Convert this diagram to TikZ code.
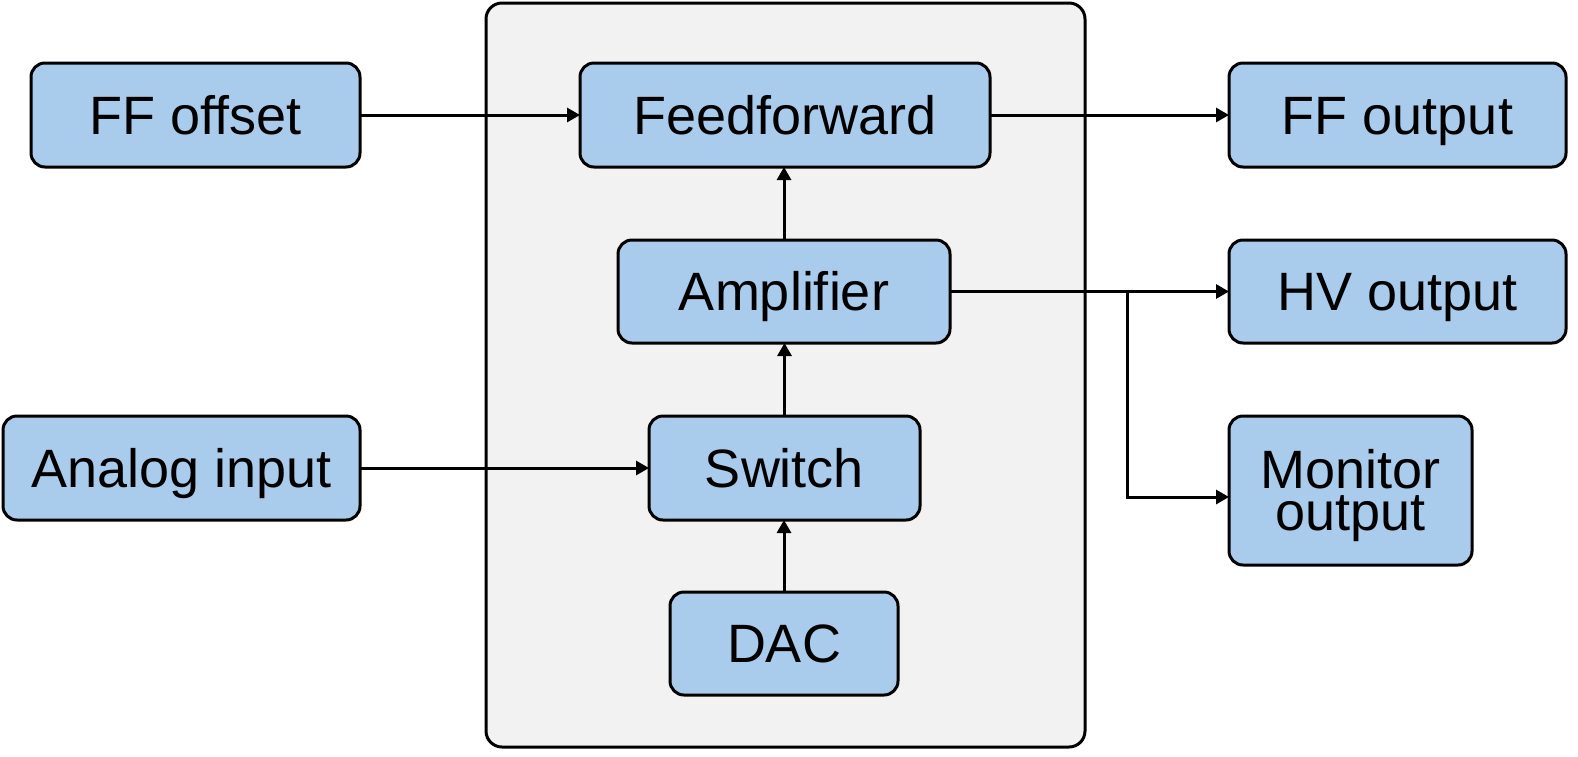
\documentclass[tikz,border=0pt]{standalone}
\usepackage{fontspec}
\setmainfont{Liberation Sans}
\usetikzlibrary{arrows.meta}
\definecolor{boxblue}{RGB}{169,203,236}
\definecolor{panelgray}{RGB}{242,242,242}
\begin{document}
\begin{tikzpicture}[x=0.5pt,y=-0.5pt,
  blk/.style={draw=black, line width=1.5pt, fill=boxblue, rounded corners=7pt,
    outer sep=0pt, inner sep=0pt, font=\fontsize{27}{21}\selectfont, align=center,
    text height=19.3pt, text depth=0pt},
  panel/.style={draw=black, line width=1.5pt, fill=panelgray, rounded corners=8pt, outer sep=0pt},
  conn/.style={draw=black, line width=1.5pt, -{Triangle[length=6.5pt,width=7pt]}}]
\useasboundingbox (0,0) rectangle (1578,756);
\node[panel, minimum width=299.5pt, minimum height=372pt] (panel) at (785.5,375) {};
\node[blk, minimum width=164.5pt, minimum height=52pt] (ffoff) at (195.5,115) {FF offset};
\node[blk, minimum width=205pt, minimum height=52pt] (ff) at (785,115) {Feedforward};
\node[blk, minimum width=168.5pt, minimum height=52pt] (ffout) at (1397.5,115) {FF output};
\node[blk, minimum width=166pt, minimum height=51.5pt] (amp) at (784,291.5) {Amplifier};
\node[blk, minimum width=168.5pt, minimum height=51.5pt] (hv) at (1397.5,291.5) {HV output};
\node[blk, minimum width=178.5pt, minimum height=52pt] (ain) at (181.5,468) {Analog input};
\node[blk, minimum width=135.5pt, minimum height=52pt] (sw) at (784.5,468) {Switch};
\node[blk, minimum width=121.5pt, minimum height=74.5pt, text height=40.3pt, text depth=0pt] (mon) at (1350.5,490.5) {Monitor\\output};
\node[blk, minimum width=114pt, minimum height=51.5pt] (dac) at (784,643.5) {DAC};
\coordinate (br) at (1127,291.5);
\draw[conn] (ffoff.east) -- (ff.east -| ff.west);
\draw[conn] (ff.east) -- (ffout.west);
\draw[conn] (amp.north) -- (amp.north |- ff.south);
\draw[conn] (sw.north) -- (sw.north |- amp.south);
\draw[conn] (dac.north) -- (dac.north |- sw.south);
\draw[conn] (ain.east) -- (sw.west);
\draw[conn] (amp.east) -- (hv.west);
\draw[conn] (br) -- (br |- 0,497) -- (mon.west |- 0,497);
\end{tikzpicture}
\end{document}
